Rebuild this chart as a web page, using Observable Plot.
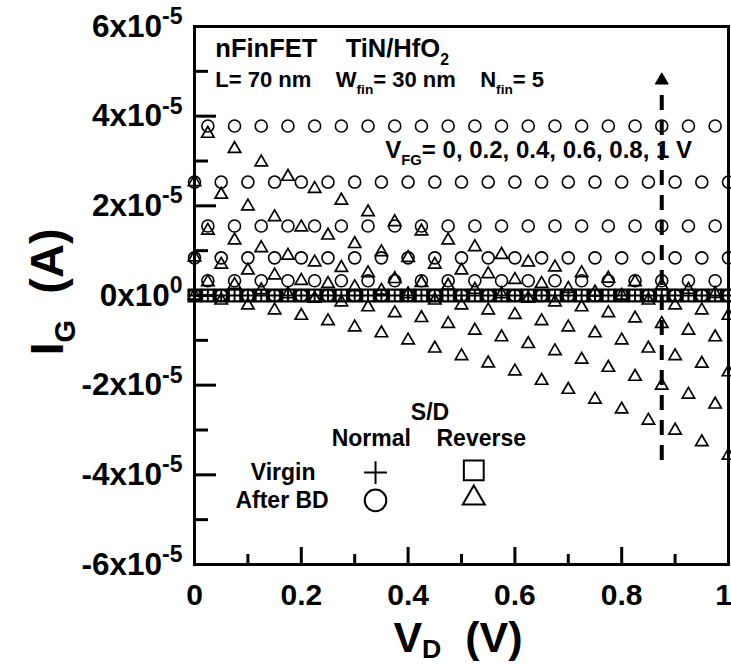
<!DOCTYPE html>
<html><head><meta charset="utf-8">
<script src="https://cdn.jsdelivr.net/npm/d3@7"></script>
<script src="https://cdn.jsdelivr.net/npm/@observablehq/plot@0.6"></script>
<style>
html,body{margin:0;padding:0;background:#fff;}
#chart svg text{font-family:"Liberation Sans",Arial,sans-serif;font-weight:bold;}
</style></head><body><div id="chart"></div>
<script>
// ---- data (I_G in units of 1e-5 A) ----
const unit = 1e-5;
const vdEven = [0,0.05,0.1,0.15,0.2,0.25,0.3,0.35,0.4,0.45,0.5,0.55,0.6,0.65,0.7,0.75,0.8,0.85,0.9,0.95,1];
const vdOdd = [0.025,0.075,0.125,0.175,0.225,0.275,0.325,0.375,0.425,0.475,0.525,0.575,0.625,0.675,0.725,0.775,0.825,0.875,0.925,0.975];
const vdVirgin = [0,0.025,0.05,0.075,0.1,0.125,0.15,0.175,0.2,0.225,0.25,0.275,0.3,0.325,0.35,0.375,0.4,0.425,0.45,0.475,0.5,0.525,0.55,0.575,0.6,0.625,0.65,0.675,0.7,0.725,0.75,0.775,0.8,0.825,0.85,0.875,0.9,0.925,0.95,0.975,1];

// Virgin (normal "+" and reverse "square") ~ 0
const virginNormal = [0,0,0,0,0,0,0,0,0,0,0,0,0,0,0,0,0,0,0,0,0,0,0,0,0,0,0,0,0,0,0,0,0,0,0,0,0,0,0,0,0];
const virginReverse = [0,0,0,0,0,0,0,0,0,0,0,0,0,0,0,0,0,0,0,0,0,0,0,0,0,0,0,0,0,0,0,0,0,0,0,0,0,0,0,0,0];

// After BD, normal S/D (circles)
const bdNormal_VFG1_0 = [3.78,3.78,3.78,3.78,3.78,3.78,3.78,3.78,3.78,3.78,3.78,3.78,3.78,3.78,3.78,3.78,3.78,3.78,3.78,3.78]; // vdOdd
const bdNormal_VFG0_8 = [2.53,2.53,2.53,2.53,2.53,2.53,2.53,2.53,2.53,2.53,2.53,2.53,2.53,2.53,2.53,2.53,2.53,2.53,2.53,2.53,2.53]; // vdEven
const bdNormal_VFG0_6 = [1.55,1.55,1.55,1.55,1.55,1.55,1.55,1.55,1.55,1.55,1.55,1.55,1.55,1.55,1.55,1.55,1.55,1.55,1.55,1.55]; // vdOdd
const bdNormal_VFG0_4 = [0.84,0.84,0.84,0.84,0.84,0.84,0.84,0.84,0.84,0.84,0.84,0.84,0.84,0.84,0.84,0.84,0.84,0.84,0.84,0.84,0.84]; // vdEven
const bdNormal_VFG0_2 = [0.33,0.33,0.33,0.33,0.33,0.33,0.33,0.33,0.33,0.33,0.33,0.33,0.33,0.33,0.33,0.33,0.33,0.33,0.33,0.33]; // vdOdd
const bdNormal_VFG0_0 = [0,0,0,0,0,0,0,0,0,0,0,0,0,0,0,0,0,0,0,0,0]; // vdEven

// After BD, reverse S/D (triangles)
const bdReverse_VFG1_0 = [3.61,3.27,2.97,2.65,2.38,2.12,1.86,1.64,1.43,1.23,1.08,0.91,0.74,0.63,0.50,0.38,0.30,0.22,0.13,0.04]; // vdOdd
const bdReverse_VFG0_8 = [2.53,2.25,1.99,1.75,1.52,1.34,1.15,0.97,0.84,0.69,0.56,0.48,0.35,0.26,0.15,0.07,0.00,-0.11,-0.22,-0.33,-0.45]; // vdEven
const bdReverse_VFG0_6 = [1.45,1.23,1.06,0.89,0.74,0.62,0.50,0.37,0.28,0.22,0.13,0.03,-0.07,-0.15,-0.26,-0.39,-0.51,-0.63,-0.78,-0.93]; // vdOdd
const bdReverse_VFG0_4 = [0.85,0.69,0.56,0.45,0.33,0.26,0.19,0.11,0.03,-0.11,-0.22,-0.33,-0.43,-0.57,-0.71,-0.84,-1.00,-1.18,-1.35,-1.52,-1.71]; // vdEven
const bdReverse_VFG0_2 = [0.30,0.24,0.12,0.03,-0.07,-0.15,-0.26,-0.39,-0.50,-0.63,-0.78,-0.93,-1.08,-1.24,-1.43,-1.61,-1.81,-2.01,-2.21,-2.43]; // vdOdd
const bdReverse_VFG0_0 = [0.00,-0.11,-0.22,-0.33,-0.45,-0.57,-0.71,-0.84,-1.00,-1.18,-1.35,-1.51,-1.69,-1.90,-2.10,-2.32,-2.54,-2.79,-3.01,-3.27,-3.57]; // vdEven

// axes
const xMajor = [0,0.2,0.4,0.6,0.8,1];
const xMajorLabels = ["0","0.2","0.4","0.6","0.8","1"];
const xMinor = [0.1,0.3,0.5,0.7,0.9];
const yMajor = [-6,-4,-2,0,2,4,6];
const yMajorLabels = ["-6x10^-5","-4x10^-5","-2x10^-5","0x10^0","2x10^-5","4x10^-5","6x10^-5"];
const yMinor = [-5,-3,-1,1,3,5];

// arrow (V_FG direction)
const arrowVD = [0.875];
const arrowFrom = [-3.68];
const arrowTo = [4.6];
const arrowHead = [4.8];

// ---- build tables ----
function table(xs, ys) { return xs.map((x, i) => ({vd: x, ig: ys[i] * unit})); }
const virginN = table(vdVirgin, virginNormal);
const virginR = table(vdVirgin, virginReverse);
const circles = [
  ...table(vdOdd, bdNormal_VFG1_0), ...table(vdEven, bdNormal_VFG0_8), ...table(vdOdd, bdNormal_VFG0_6),
  ...table(vdEven, bdNormal_VFG0_4), ...table(vdOdd, bdNormal_VFG0_2), ...table(vdEven, bdNormal_VFG0_0)];
const triangles = [
  ...table(vdOdd, bdReverse_VFG1_0), ...table(vdEven, bdReverse_VFG0_8), ...table(vdOdd, bdReverse_VFG0_6),
  ...table(vdEven, bdReverse_VFG0_4), ...table(vdOdd, bdReverse_VFG0_2), ...table(vdEven, bdReverse_VFG0_0)];

const U = v => v * unit;
const legendText = [
  {vd: 0.441, ig: U(-2.61), t: "S/D"},
  {vd: 0.331, ig: U(-3.19), t: "Normal"},
  {vd: 0.537, ig: U(-3.19), t: "Reverse"},
  {vd: 0.166, ig: U(-3.95), t: "Virgin"},
  {vd: 0.164, ig: U(-4.57), t: "After BD"}
];
const legStroke = {x: "vd", y: "ig", stroke: "black", strokeWidth: 2, fill: "none"};

const plot = Plot.plot({
  width: 731, height: 665,
  marginLeft: 194, marginRight: 3, marginTop: 26, marginBottom: 101,
  x: {domain: [0, 1]},
  y: {domain: [-6e-5, 6e-5]},
  style: {background: "white", overflow: "visible", fontFamily: "Liberation Sans, Arial, sans-serif"},
  marks: [
    Plot.axisX({ticks: xMinor, tickSize: -10, strokeWidth: 3, text: null, label: null}),
    Plot.axisX({ticks: xMajor, tickSize: -17, strokeWidth: 3, text: null, label: null}),
    Plot.axisX({ticks: xMajor, tickSize: 0, tickPadding: 19, fontSize: 30, fontWeight: "bold",
      tickFormat: (d, i) => xMajorLabels[i], label: null}),
    Plot.axisY({ticks: yMinor.map(U), tickSize: -14, strokeWidth: 3, text: null, label: null}),
    Plot.axisY({ticks: yMajor.map(U), tickSize: -22, strokeWidth: 3, text: null, label: null}),
    Plot.axisY({ticks: yMajor.map(U), tickSize: 0, tickPadding: 12, fontSize: 31.5, fontWeight: "bold",
      tickFormat: (d, i) => yMajorLabels[i], label: null}),
    Plot.dot(virginR, {x: "vd", y: "ig", symbol: "square", r: 6.6, stroke: "black", strokeWidth: 2.4}),
    Plot.dot(virginN, {x: "vd", y: "ig", symbol: "plus", r: 4.2, stroke: "black", strokeWidth: 2}),
    Plot.dot(circles, {x: "vd", y: "ig", symbol: "circle", r: 6, stroke: "black", strokeWidth: 1.6}),
    Plot.dot(triangles, {x: "vd", y: "ig", symbol: "triangle", r: 4.6, stroke: "black", strokeWidth: 1.7}),
    Plot.ruleX(arrowVD, {x: d => d, y1: U(arrowFrom[0]), y2: U(arrowTo[0]), stroke: "black", strokeWidth: 4, strokeDasharray: "15,10"}),
    Plot.dot(arrowVD, {x: d => d, y: U(arrowHead[0]), symbol: "triangle", r: 4.8, fill: "black", stroke: "black", strokeWidth: 1}),
    // legend symbols
    Plot.dot([{vd: 0.339, ig: U(-3.95)}], {...legStroke, symbol: "plus", r: 7.4}),
    Plot.dot([{vd: 0.523, ig: U(-3.90)}], {...legStroke, symbol: "square", r: 11.2}),
    Plot.dot([{vd: 0.339, ig: U(-4.57)}], {...legStroke, symbol: "circle", r: 10.8}),
    Plot.dot([{vd: 0.523, ig: U(-4.52)}], {...legStroke, symbol: "triangle", r: 8.2}),
    Plot.text(legendText, {x: "vd", y: "ig", text: "t", fontSize: 23, fontWeight: "bold", fill: "black"}),
    Plot.frame({stroke: "black", strokeWidth: 3})
  ]
});

document.getElementById("chart").appendChild(plot);

const svg = d3.select(plot);
const sx = plot.scale("x"), sy = plot.scale("y");

// superscripts on y tick labels
svg.selectAll('[aria-label="y-axis tick label"] text').each(function() {
  const s = this.textContent;
  const [a, b] = s.split("^");
  this.textContent = "";
  d3.select(this).append("tspan").text(a);
  d3.select(this).append("tspan").attr("dy", "-0.55em").attr("font-size", "23px").text(b);
});
// keep last x label inside the picture
const xl = svg.selectAll('[aria-label="x-axis tick label"] text').nodes();
if (xl.length) d3.select(xl[xl.length - 1]).attr("dx", -5);

// rich text helper: parts = [[text, "n"|"sub"]]
function rich(x, y, size, parts, opts = {}) {
  const t = svg.append("text").attr("x", x).attr("y", y).attr("font-size", size)
    .attr("font-weight", "bold").attr("fill", "black")
    .attr("font-family", "Liberation Sans, Arial, sans-serif")
    .attr("text-anchor", opts.anchor || "start");
  if (opts.transform) t.attr("transform", opts.transform);
  const sub = size * (opts.subShift || 0.3);
  let low = false;
  parts.forEach(([txt, kind]) => {
    const ts = t.append("tspan").text(txt);
    if (kind === "sub") { ts.attr("font-size", size * 0.62).attr("dy", low ? 0 : sub); low = true; }
    else { ts.attr("dy", low ? -sub : 0); low = false; }
  });
  return t;
}

const sp = n => "\u00a0".repeat(n);
const X = v => sx.apply(v), Y = v => sy.apply(U(v));
rich(X(0.04), Y(5.31), 25.5, [["nFinFET" + sp(4) + "TiN/HfO", "n"], ["2", "sub"]]);
rich(X(0.04), Y(4.64), 22, [["L= 70 nm" + sp(4) + "W", "n"], ["fin", "sub"], ["= 30 nm" + sp(4) + "N", "n"], ["fin", "sub"], ["= 5", "n"]]);
rich(X(0.358), Y(3.06), 24, [["V", "n"], ["FG", "sub"], ["= 0, 0.2, 0.4, 0.6, 0.8, 1 V", "n"]]);
// axis titles
rich(458, 652, 43, [["V", "n"], ["D", "sub"], [sp(2) + "(V)", "n"]], {anchor: "middle", subShift: 0.15});
rich(0, 0, 47, [["I", "n"], ["G", "sub"], [sp(2) + "(A)", "n"]], {anchor: "middle", transform: "translate(63,292) rotate(-90)", subShift: 0.25});
</script></body></html>
